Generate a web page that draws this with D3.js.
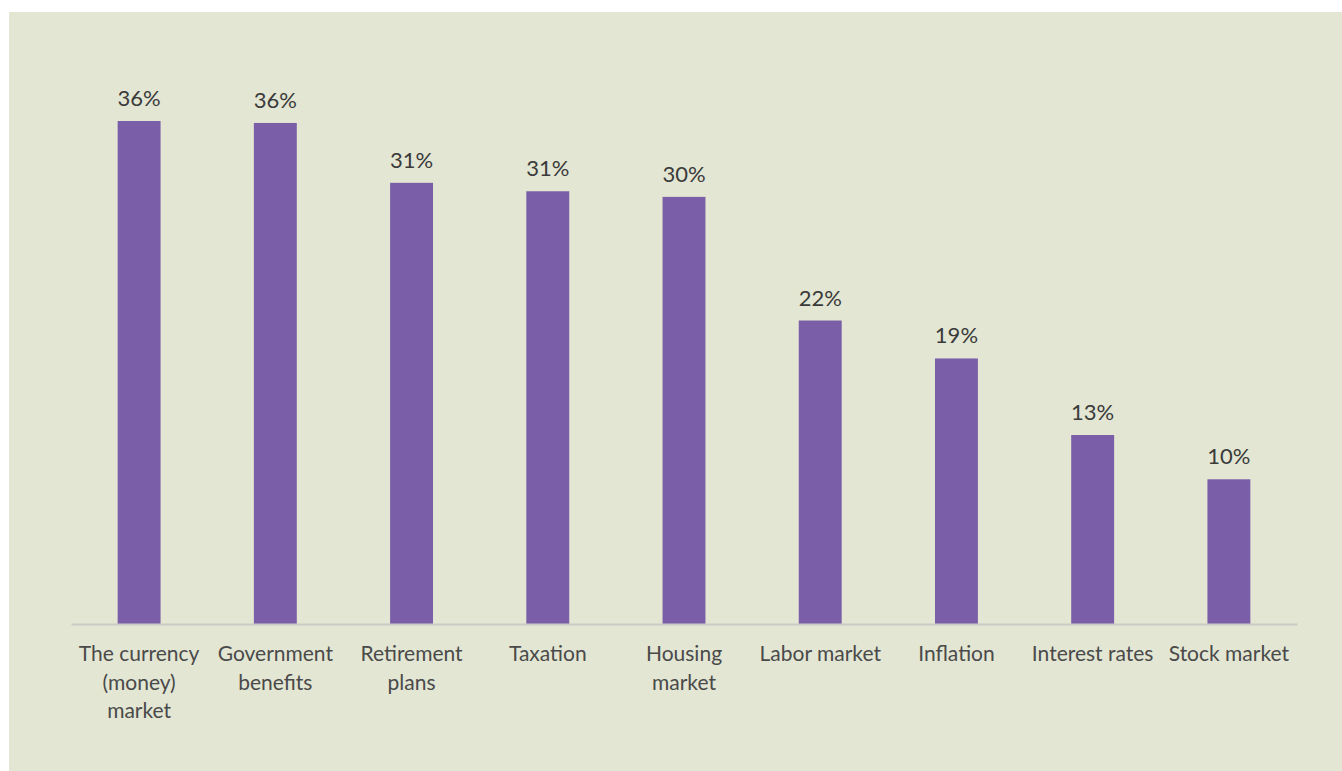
<!DOCTYPE html>
<html>
<head>
<meta charset="utf-8">
<script src="https://cdn.jsdelivr.net/npm/d3@7"></script>
<style>
  html, body { margin: 0; padding: 0; background: #ffffff; }
  svg { display: block; }
  text { font-family: Lato, "Open Sans", sans-serif; }
</style>
</head>
<body>
<svg id="chart" width="1342" height="771"></svg>
<script>
const categories = [
  "The currency\n(money)\nmarket",
  "Government\nbenefits",
  "Retirement\nplans",
  "Taxation",
  "Housing\nmarket",
  "Labor market",
  "Inflation",
  "Interest rates",
  "Stock market"
];
const values = [0.358, 0.3566, 0.314, 0.308, 0.304, 0.216, 0.189, 0.1345, 0.103];

const W = 1342, H = 771;
const svg = d3.select("#chart");

svg.append("rect")
  .attr("x", 9).attr("y", 12)
  .attr("width", W - 9).attr("height", H - 12)
  .attr("fill", "#e2e6d3");

const x = d3.scaleBand()
  .domain(categories)
  .range([71, 1297])
  .paddingInner(0.685)
  .paddingOuter(0.3425);

const y = d3.scaleLinear()
  .domain([0, 0.40])
  .range([624, 62]);

const data = categories.map((c, i) => ({ c, v: values[i] }));

svg.append("g").selectAll("rect")
  .data(data)
  .join("rect")
  .attr("x", d => x(d.c))
  .attr("y", d => y(d.v))
  .attr("width", x.bandwidth())
  .attr("height", d => y(0) - y(d.v))
  .attr("fill", "#7a5ea7");

const fmt = d3.format(".0%");
svg.append("g").selectAll("text")
  .data(data)
  .join("text")
  .attr("x", d => x(d.c) + x.bandwidth() / 2)
  .attr("y", d => y(d.v) - 15)
  .attr("text-anchor", "middle")
  .attr("font-size", 22)
  .attr("fill", "#3a3a3a")
  .text(d => fmt(d.v));

const axis = d3.axisBottom(x).tickSize(0).tickPadding(0);
const gx = svg.append("g")
  .attr("transform", `translate(0,${y(0)})`)
  .call(axis);
gx.select(".domain").attr("stroke", "#c9cbc4").attr("stroke-width", 2);
gx.selectAll(".tick text").each(function(d) {
  const t = d3.select(this);
  const lines = d.split("\n");
  t.text(null)
    .attr("font-size", 21)
    .attr("fill", "#4a4a4a")
    .attr("font-family", "Lato, 'Open Sans', sans-serif")
    .attr("y", 0).attr("dy", null);
  lines.forEach((ln, i) => {
    t.append("tspan")
      .attr("x", 0)
      .attr("y", 37 + i * 28.5)
      .text(ln);
  });
});
</script>
</body>
</html>
